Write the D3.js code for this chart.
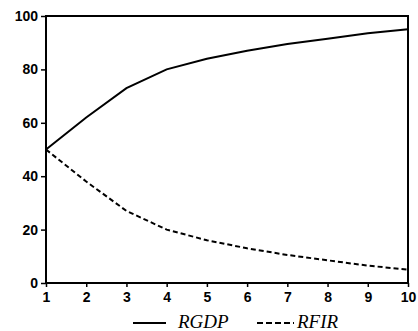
<!DOCTYPE html>
<html>
<head>
<style>
body { margin: 0; background: #fff; }
</style>
</head>
<body>
<div id="chart"></div>
<script src="https://d3js.org/d3.v7.min.js"></script>
<script>
const width = 418;
const height = 331;

const periods = [1, 2, 3, 4, 5, 6, 7, 8, 9, 10];
const rgdp = [50, 62, 73, 80, 84, 87, 89.5, 91.5, 93.5, 95];
const rfir = [50, 38, 27, 20, 16, 13, 10.5, 8.5, 6.5, 5];
const yTicks = [0, 20, 40, 60, 80, 100];
const seriesNames = ["RGDP", "RFIR"];

const margin = { left: 46, right: 10, top: 16, bottom: 48 };

const svg = d3.select("#chart").append("svg")
  .attr("width", width)
  .attr("height", height);

svg.append("rect").attr("width", width).attr("height", height).attr("fill", "#fff");

const x = d3.scaleLinear().domain([1, 10]).range([margin.left, width - margin.right]);
const y = d3.scaleLinear().domain([0, 100]).range([height - margin.bottom, margin.top]);

// frame
svg.append("rect")
  .attr("x", x(1)).attr("y", y(100))
  .attr("width", x(10) - x(1)).attr("height", y(0) - y(100))
  .attr("fill", "none").attr("stroke", "#000").attr("stroke-width", 2);

// axes
const yAxis = svg.append("g")
  .attr("transform", `translate(${x(1)},0)`)
  .call(d3.axisLeft(y).tickValues(yTicks).tickSize(5).tickPadding(3));
const xAxis = svg.append("g")
  .attr("transform", `translate(0,${y(0)})`)
  .call(d3.axisBottom(x).tickValues(periods).tickSize(4).tickPadding(5));

[yAxis, xAxis].forEach(g => {
  g.select(".domain").remove();
  g.selectAll("line").attr("stroke", "#000").attr("stroke-width", 1.5);
  g.selectAll("text")
    .attr("font-family", "Arial, 'Liberation Sans', sans-serif")
    .attr("font-size", 14)
    .attr("font-weight", "bold")
    .attr("fill", "#000");
});

const line = d3.line().x((d, i) => x(periods[i])).y(d => y(d));

svg.append("path").datum(rgdp)
  .attr("d", line).attr("fill", "none")
  .attr("stroke", "#000").attr("stroke-width", 2);

svg.append("path").datum(rfir)
  .attr("d", line).attr("fill", "none")
  .attr("stroke", "#000").attr("stroke-width", 2)
  .attr("stroke-dasharray", "5,3");

// legend
const legend = [
  { name: seriesNames[0], x1: 133, x2: 166, tx: 178, dash: null },
  { name: seriesNames[1], x1: 257, x2: 294, tx: 297, dash: "6,3" }
];
legend.forEach(l => {
  svg.append("line")
    .attr("x1", l.x1).attr("x2", l.x2).attr("y1", 323).attr("y2", 323)
    .attr("stroke", "#000").attr("stroke-width", 2)
    .attr("stroke-dasharray", l.dash);
  svg.append("text")
    .attr("x", l.tx).attr("y", 328)
    .attr("font-family", "'Liberation Serif', 'Times New Roman', serif")
    .attr("font-style", "italic")
    .attr("font-size", 19)
    .attr("fill", "#000")
    .text(l.name);
});
</script>
</body>
</html>
